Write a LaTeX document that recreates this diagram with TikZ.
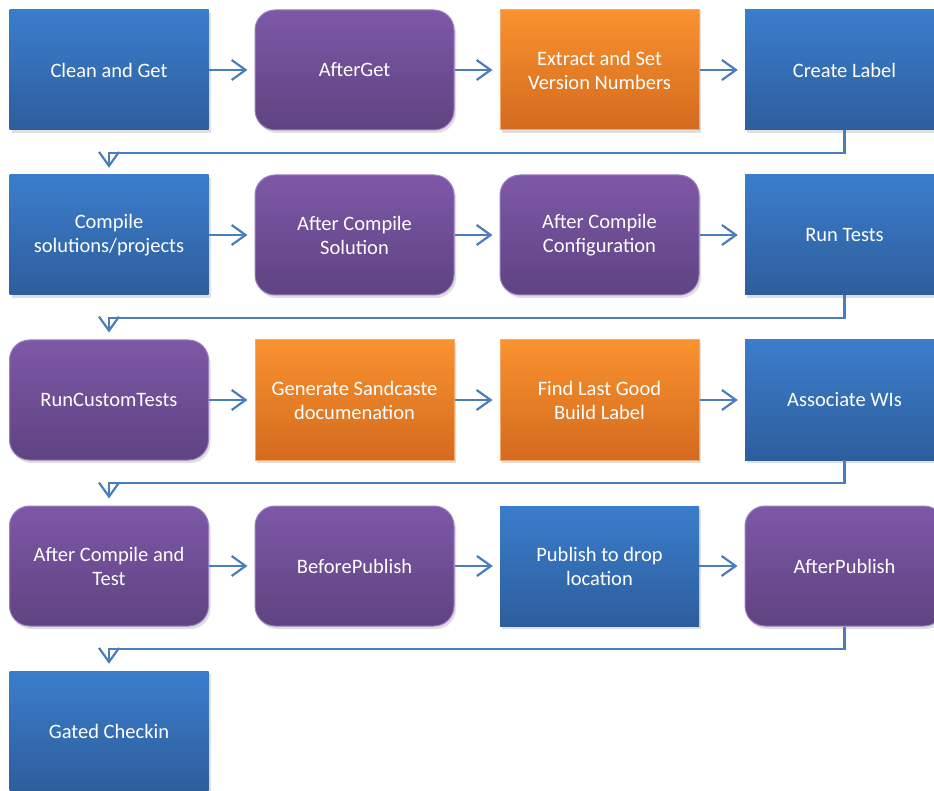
\documentclass[tikz,border=0pt]{standalone}
\usepackage{fontspec}
\setmainfont{Carlito}
\usetikzlibrary{arrows.meta,shadows}
\definecolor{btop}{HTML}{3B7DCB}
\definecolor{bbot}{HTML}{2D5E9C}
\definecolor{ptop}{HTML}{7D58A7}
\definecolor{pbot}{HTML}{5F4381}
\definecolor{pedge}{HTML}{9A7EC2}
\definecolor{otop}{HTML}{F9922F}
\definecolor{obot}{HTML}{D46A1E}
\definecolor{oedge}{HTML}{F7A868}
\definecolor{lnk}{HTML}{4A7EBB}
\tikzset{
  boxbase/.style={minimum width=199pt, minimum height=120pt, inner sep=0pt,
    text=white, align=center, font=\fontsize{20.5}{24}\selectfont,
    drop shadow={opacity=0.25, shadow xshift=2pt, shadow yshift=-3pt}},
  bluebox/.style={boxbase, rectangle, top color=btop, bottom color=bbot, draw=none},
  purplebox/.style={boxbase, rectangle, rounded corners=20pt, top color=ptop, bottom color=pbot, draw=pedge, line width=1pt},
  orangebox/.style={boxbase, rectangle, top color=otop, bottom color=obot, draw=oedge, line width=1pt},
  arr/.style={draw=lnk, line width=2.2pt, -{Straight Barb[length=14pt,width=20pt,line width=2.2pt]}, shorten >=7pt},
}
\begin{document}
\begin{tikzpicture}[x=1pt,y=-1pt]
\useasboundingbox (0,0) rectangle (934,791);
\clip (0,0) rectangle (934,791);
% row 1
\node[bluebox]   (a1) at (109,70)   {Clean and Get};
\node[purplebox] (a2) at (354.5,70) {AfterGet};
\node[orangebox] (a3) at (599.5,70) {Extract and Set\\Version Numbers};
\node[bluebox]   (a4) at (844.5,70) {Create Label};
% row 2
\node[bluebox]   (b1) at (109,235)   {Compile\\solutions/projects};
\node[purplebox] (b2) at (354.5,235) {After Compile\\Solution};
\node[purplebox] (b3) at (599.5,235) {After Compile\\Configuration};
\node[bluebox]   (b4) at (844.5,235) {Run Tests};
% row 3
\node[purplebox] (c1) at (109,400)   {RunCustomTests};
\node[orangebox] (c2) at (354.5,400) {Generate Sandcaste\\documenation};
\node[orangebox] (c3) at (599.5,400) {Find Last Good\\Build Label};
\node[bluebox]   (c4) at (844.5,400) {Associate WIs};
% row 4
\node[purplebox] (d1) at (109,566)   {After Compile and\\Test};
\node[purplebox] (d2) at (354.5,566) {BeforePublish};
\node[bluebox]   (d3) at (599.5,566) {Publish to drop\\location};
\node[purplebox] (d4) at (844.5,566) {AfterPublish};
% row 5
\node[bluebox]   (e1) at (109,731)   {Gated Checkin};
% horizontal connectors
\foreach \r in {a,b,c,d}{
  \draw[arr] (\r1.east) -- (\r2.west);
  \draw[arr] (\r2.east) -- (\r3.west);
  \draw[arr] (\r3.east) -- (\r4.west);
}
% return connectors
\draw[arr] (a4.south) -- ++(0,22.5) -| (b1.north);
\draw[arr] (b4.south) -- ++(0,22.5) -| (c1.north);
\draw[arr] (c4.south) -- ++(0,22.5) -| (d1.north);
\draw[arr] (d4.south) -- ++(0,22.5) -| (e1.north);
\end{tikzpicture}
\end{document}
